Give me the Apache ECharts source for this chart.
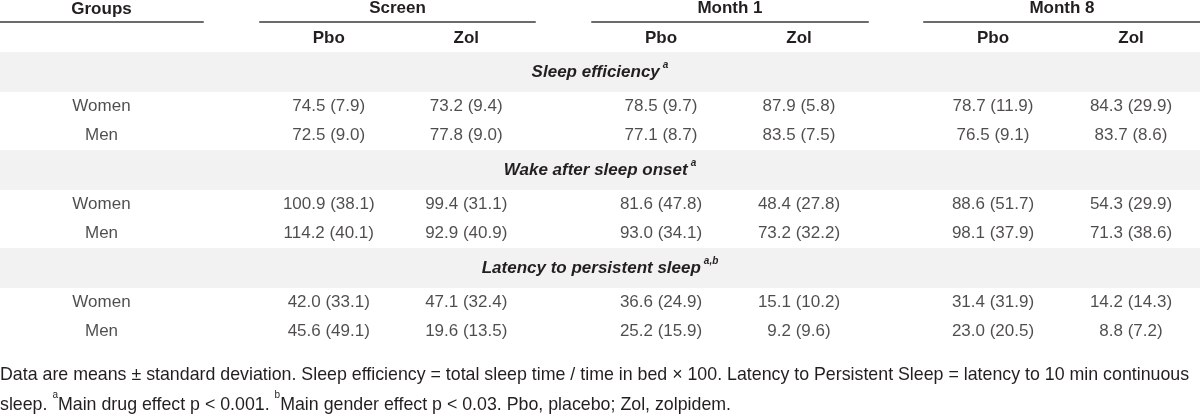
<!DOCTYPE html>
<html>
<head>
<meta charset="utf-8">
<script src="https://cdn.jsdelivr.net/npm/echarts@6/dist/echarts.min.js"></script>
<style>
  html, body { margin: 0; padding: 0; background: #fff; }
  #table { width: 1200px; height: 416px; }
</style>
</head>
<body>
<div id="table"></div>
<script>
// table content
var groups = ['Women', 'Men'];
var periods = ['Screen', 'Month 1', 'Month 8'];
var arms = ['Pbo', 'Zol'];
var measures = ['Sleep efficiency', 'Wake after sleep onset', 'Latency to persistent sleep'];
var measureNotes = ['a', 'a', 'a,b'];

// columns: Screen Pbo, Screen Zol, Month 1 Pbo, Month 1 Zol, Month 8 Pbo, Month 8 Zol
var effWomenMean = [74.5, 73.2, 78.5, 87.9, 78.7, 84.3];
var effWomenSd = [7.9, 9.4, 9.7, 5.8, 11.9, 29.9];
var effMenMean = [72.5, 77.8, 77.1, 83.5, 76.5, 83.7];
var effMenSd = [9.0, 9.0, 8.7, 7.5, 9.1, 8.6];

var wasoWomenMean = [100.9, 99.4, 81.6, 48.4, 88.6, 54.3];
var wasoWomenSd = [38.1, 31.1, 47.8, 27.8, 51.7, 29.9];
var wasoMenMean = [114.2, 92.9, 93.0, 73.2, 98.1, 71.3];
var wasoMenSd = [40.1, 40.9, 34.1, 32.2, 37.9, 38.6];

var lpsWomenMean = [42.0, 47.1, 36.6, 15.1, 31.4, 14.2];
var lpsWomenSd = [33.1, 32.4, 24.9, 10.2, 31.9, 14.3];
var lpsMenMean = [45.6, 19.6, 25.2, 9.2, 23.0, 8.8];
var lpsMenSd = [49.1, 13.5, 15.9, 9.6, 20.5, 7.2];

var footLine1 = 'Data are means \u00b1 standard deviation. Sleep efficiency = total sleep time / time in bed \u00d7 100. Latency to Persistent Sleep = latency to 10 min continuous';
var footLine2 = ['sleep. ', 'Main drug effect p < 0.001. ', 'Main gender effect p < 0.03. Pbo, placebo; Zol, zolpidem.'];

// [measure][group] -> [means, sds]
var tableValues = [
    [[effWomenMean, effWomenSd], [effMenMean, effMenSd]],
    [[wasoWomenMean, wasoWomenSd], [wasoMenMean, wasoMenSd]],
    [[lpsWomenMean, lpsWomenSd], [lpsMenMean, lpsMenSd]]
];

var FONT = '"Liberation Sans Narrow", "Arial Narrow", "Liberation Sans", Arial, sans-serif';
var TEXT = '#231f20';
var RULE = '#6b6b6b';
var BAND = '#f2f2f2';
var FS = 17;
var FOOT_FS = 17.8;

// row layout (px): sub-header row, then per measure a band row and one row per group
var HEADER_H = 30, BAND_H = 40, ROW_H = 29;
var rowTops = [];
var rowHeights = [HEADER_H];
measures.forEach(function () {
    rowHeights.push(BAND_H);
    groups.forEach(function () { rowHeights.push(ROW_H); });
});
var acc = 0;
rowHeights.forEach(function (h) { rowTops.push(acc); acc += h; });
var tableHeight = acc;
function bandRow(k) { return k * (groups.length + 1) + 1; }
function rowMid(i) { return rowTops[i] + rowHeights[i] / 2; }

var gridTop = 22;
var grids = [
    { left: 0, right: 0, top: gridTop, height: tableHeight },
    { left: 0, width: 203, top: gridTop, height: tableHeight },
    { left: 260, width: 275, top: gridTop, height: tableHeight },
    { left: 592, width: 276, top: gridTop, height: tableHeight },
    { left: 924, right: 0, top: gridTop, height: tableHeight }
];
grids.forEach(function (g) { g.containLabel = false; g.outerBoundsMode = 'none'; });

function headerAxis(gridIndex, name, cats, showLabels) {
    return {
        type: 'category', gridIndex: gridIndex, position: 'top', data: cats,
        name: name, nameLocation: 'middle', nameGap: 4,
        nameTextStyle: { fontFamily: FONT, fontSize: FS, fontWeight: 'bold', color: TEXT },
        axisLine: { show: true, lineStyle: { color: RULE, width: 2 } },
        axisTick: { show: false },
        splitLine: { show: false },
        axisLabel: {
            show: showLabels, inside: true, margin: 8, interval: 0,
            fontFamily: FONT, fontSize: FS, fontWeight: 'bold', color: TEXT
        }
    };
}

var xAxes = [
    { type: 'value', gridIndex: 0, min: 0, max: 1, show: false },
    headerAxis(1, 'Groups', [''], false)
];
periods.forEach(function (p, i) { xAxes.push(headerAxis(i + 2, p, arms, true)); });

var yAxes = grids.map(function (g, i) {
    return { type: 'value', gridIndex: i, min: 0, max: tableHeight, inverse: true, show: false };
});

var cellLabel = {
    show: true, position: 'inside',
    fontFamily: FONT, fontSize: FS, color: TEXT, formatter: '{b}'
};

// grey bands with the measure titles
var bandAreas = measures.map(function (m, k) {
    var r = bandRow(k);
    return [
        { yAxis: rowTops[r], label: { formatter: '{t|' + m + '}{s|' + measureNotes[k] + '}' } },
        { yAxis: rowTops[r] + rowHeights[r] }
    ];
});

var series = [{
    type: 'scatter', xAxisIndex: 0, yAxisIndex: 0, data: [], silent: true,
    markArea: {
        silent: true,
        itemStyle: { color: BAND, opacity: 1 },
        label: {
            show: true, position: 'inside',
            rich: {
                t: { fontFamily: FONT, fontSize: FS, fontWeight: 'bold', fontStyle: 'italic', color: TEXT, lineHeight: 24 },
                s: { fontFamily: FONT, fontSize: 10, fontWeight: 'bold', fontStyle: 'italic', color: TEXT, lineHeight: 20, verticalAlign: 'top', padding: [0, 0, 0, 3] }
            }
        },
        data: bandAreas
    }
}];

// group names column
var groupData = [];
measures.forEach(function (m, k) {
    groups.forEach(function (g, gi) {
        groupData.push({ name: g, value: [0, rowMid(bandRow(k) + 1 + gi)] });
    });
});
series.push({
    type: 'scatter', xAxisIndex: 1, yAxisIndex: 1, data: groupData,
    symbolSize: 1, itemStyle: { color: 'rgba(0,0,0,0)' }, silent: true, label: cellLabel
});

// value cells per period
periods.forEach(function (p, pi) {
    var data = [];
    measures.forEach(function (m, k) {
        groups.forEach(function (g, gi) {
            arms.forEach(function (a, ai) {
                var col = pi * arms.length + ai;
                var vals = tableValues[k][gi];
                data.push({
                    name: vals[0][col].toFixed(1) + ' (' + vals[1][col].toFixed(1) + ')',
                    value: [ai, rowMid(bandRow(k) + 1 + gi)]
                });
            });
        });
    });
    series.push({
        type: 'scatter', xAxisIndex: pi + 2, yAxisIndex: pi + 2, data: data,
        symbolSize: 1, itemStyle: { color: 'rgba(0,0,0,0)' }, silent: true, label: cellLabel
    });
});

var chart = echarts.init(document.getElementById('table'), null, { renderer: 'canvas' });
chart.setOption({
    animation: false,
    backgroundColor: '#fff',
    title: {
        left: 0, top: 360, padding: 0,
        text: footLine1 + '\n' + footLine2[0] + '{sup|a}' + footLine2[1] + '{sup|b}' + footLine2[2],
        textStyle: {
            fontFamily: FONT, fontSize: FOOT_FS, fontWeight: 'normal', color: TEXT, lineHeight: 30,
            rich: {
                sup: { fontFamily: FONT, fontSize: 10, color: TEXT, lineHeight: 22, verticalAlign: 'top' }
            }
        }
    },
    grid: grids,
    xAxis: xAxes,
    yAxis: yAxes,
    series: series
});
window.addEventListener('resize', chart.resize);
</script>
</body>
</html>
